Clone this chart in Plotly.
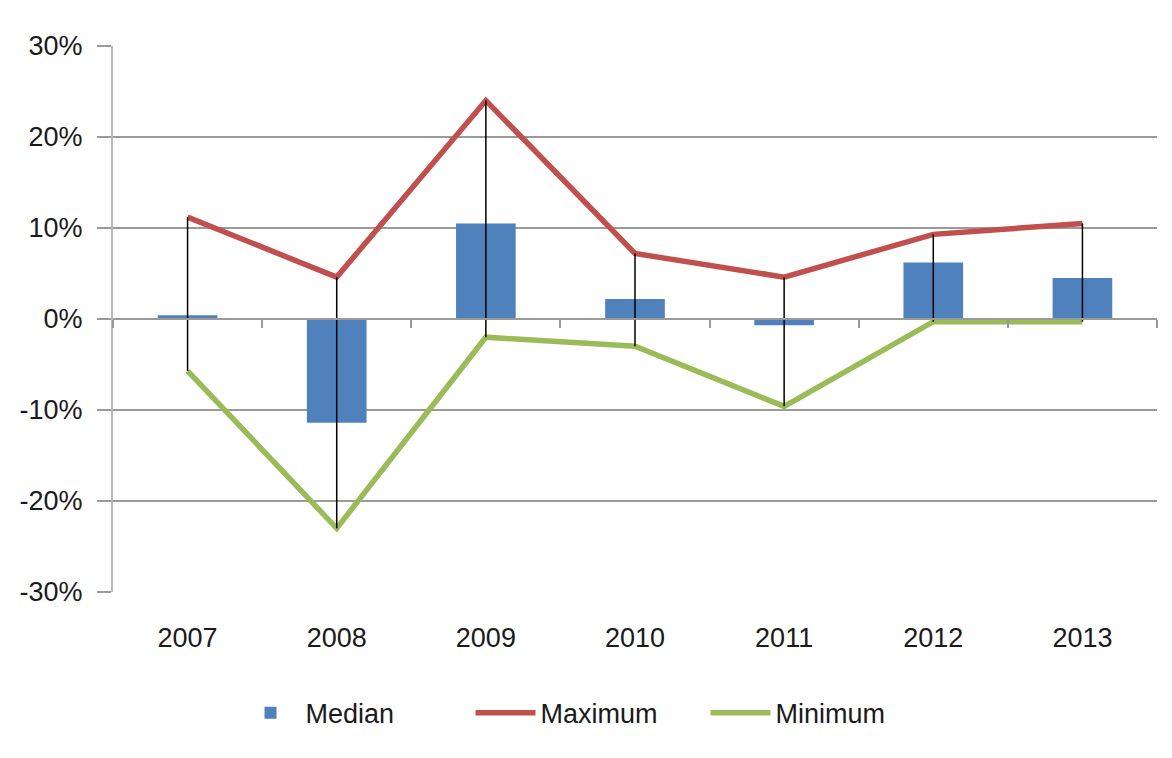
import plotly.graph_objects as go

years = ["2007", "2008", "2009", "2010", "2011", "2012", "2013"]
median = [0.4, -11.4, 10.5, 2.2, -0.7, 6.2, 4.5]
maximum = [11.2, 4.6, 24.0, 7.2, 4.6, 9.3, 10.5]
minimum = [-5.7, -23.0, -2.0, -3.0, -9.6, -0.3, -0.3]
y_ticks = [-30, -20, -10, 0, 10, 20, 30]
y_labels = [f"{v}%" for v in y_ticks]

FONT = "Liberation Sans, Arial, sans-serif"
GRID = "#9a9a9a"

fig = go.Figure()

fig.add_trace(go.Bar(
    x=years, y=median, name="Median",
    marker=dict(color="#4F81BD", line=dict(width=0)),
))

# High-low lines (drawn as error bars from max down to min)
fig.add_trace(go.Scatter(
    x=years, y=maximum, mode="markers", showlegend=False,
    marker=dict(size=1, color="rgba(0,0,0,0)"),
    error_y=dict(type="data", symmetric=False,
                 array=[0] * len(years),
                 arrayminus=[mx - mn for mx, mn in zip(maximum, minimum)],
                 color="#000000", thickness=1.5, width=0),
    hoverinfo="skip", xaxis="x2",
))

fig.add_trace(go.Scatter(
    x=years, y=maximum, name="Maximum", mode="lines",
    line=dict(color="#C0504D", width=5.5),
))
fig.add_trace(go.Scatter(
    x=years, y=minimum, name="Minimum", mode="lines",
    line=dict(color="#9BBB59", width=5.5),
))

fig.update_layout(
    width=1172, height=758,
    margin=dict(l=105, r=23, t=38, b=174),
    paper_bgcolor="white", plot_bgcolor="white",
    font=dict(family=FONT, size=27, color="#1a1a1a"),
    bargap=0.6,
    showlegend=True,
    legend=dict(orientation="h", x=0.455, xanchor="center", y=-0.222, yanchor="middle",
                font=dict(size=27), itemwidth=60, traceorder="normal",
                entrywidth=160, entrywidthmode="pixels"),
    xaxis=dict(
        type="category", categoryorder="array", categoryarray=years,
        showgrid=False, showline=False, zeroline=False,
        ticks="", ticklabelstandoff=27,
        tickfont=dict(size=27),
    ),
    xaxis2=dict(
        type="category", categoryorder="array", categoryarray=years,
        overlaying="x", matches="x", anchor="free", position=0.5,
        showline=True, linecolor=GRID, linewidth=1.5,
        ticks="outside", tickson="boundaries", ticklen=8, tickcolor=GRID, tickwidth=1.5,
        showticklabels=False, showgrid=False, zeroline=False,
    ),
    yaxis=dict(
        range=[-30, 30], tickvals=y_ticks, ticktext=y_labels,
        showgrid=True, gridcolor=GRID, gridwidth=1.5,
        zeroline=False,
        showline=True, linecolor="#b8b8b8", linewidth=2,
        ticks="outside", ticklen=14, tickcolor=GRID, tickwidth=1.5,
        ticklabelstandoff=9,
        tickfont=dict(size=27),
    ),
)

fig.write_html("out.html")
